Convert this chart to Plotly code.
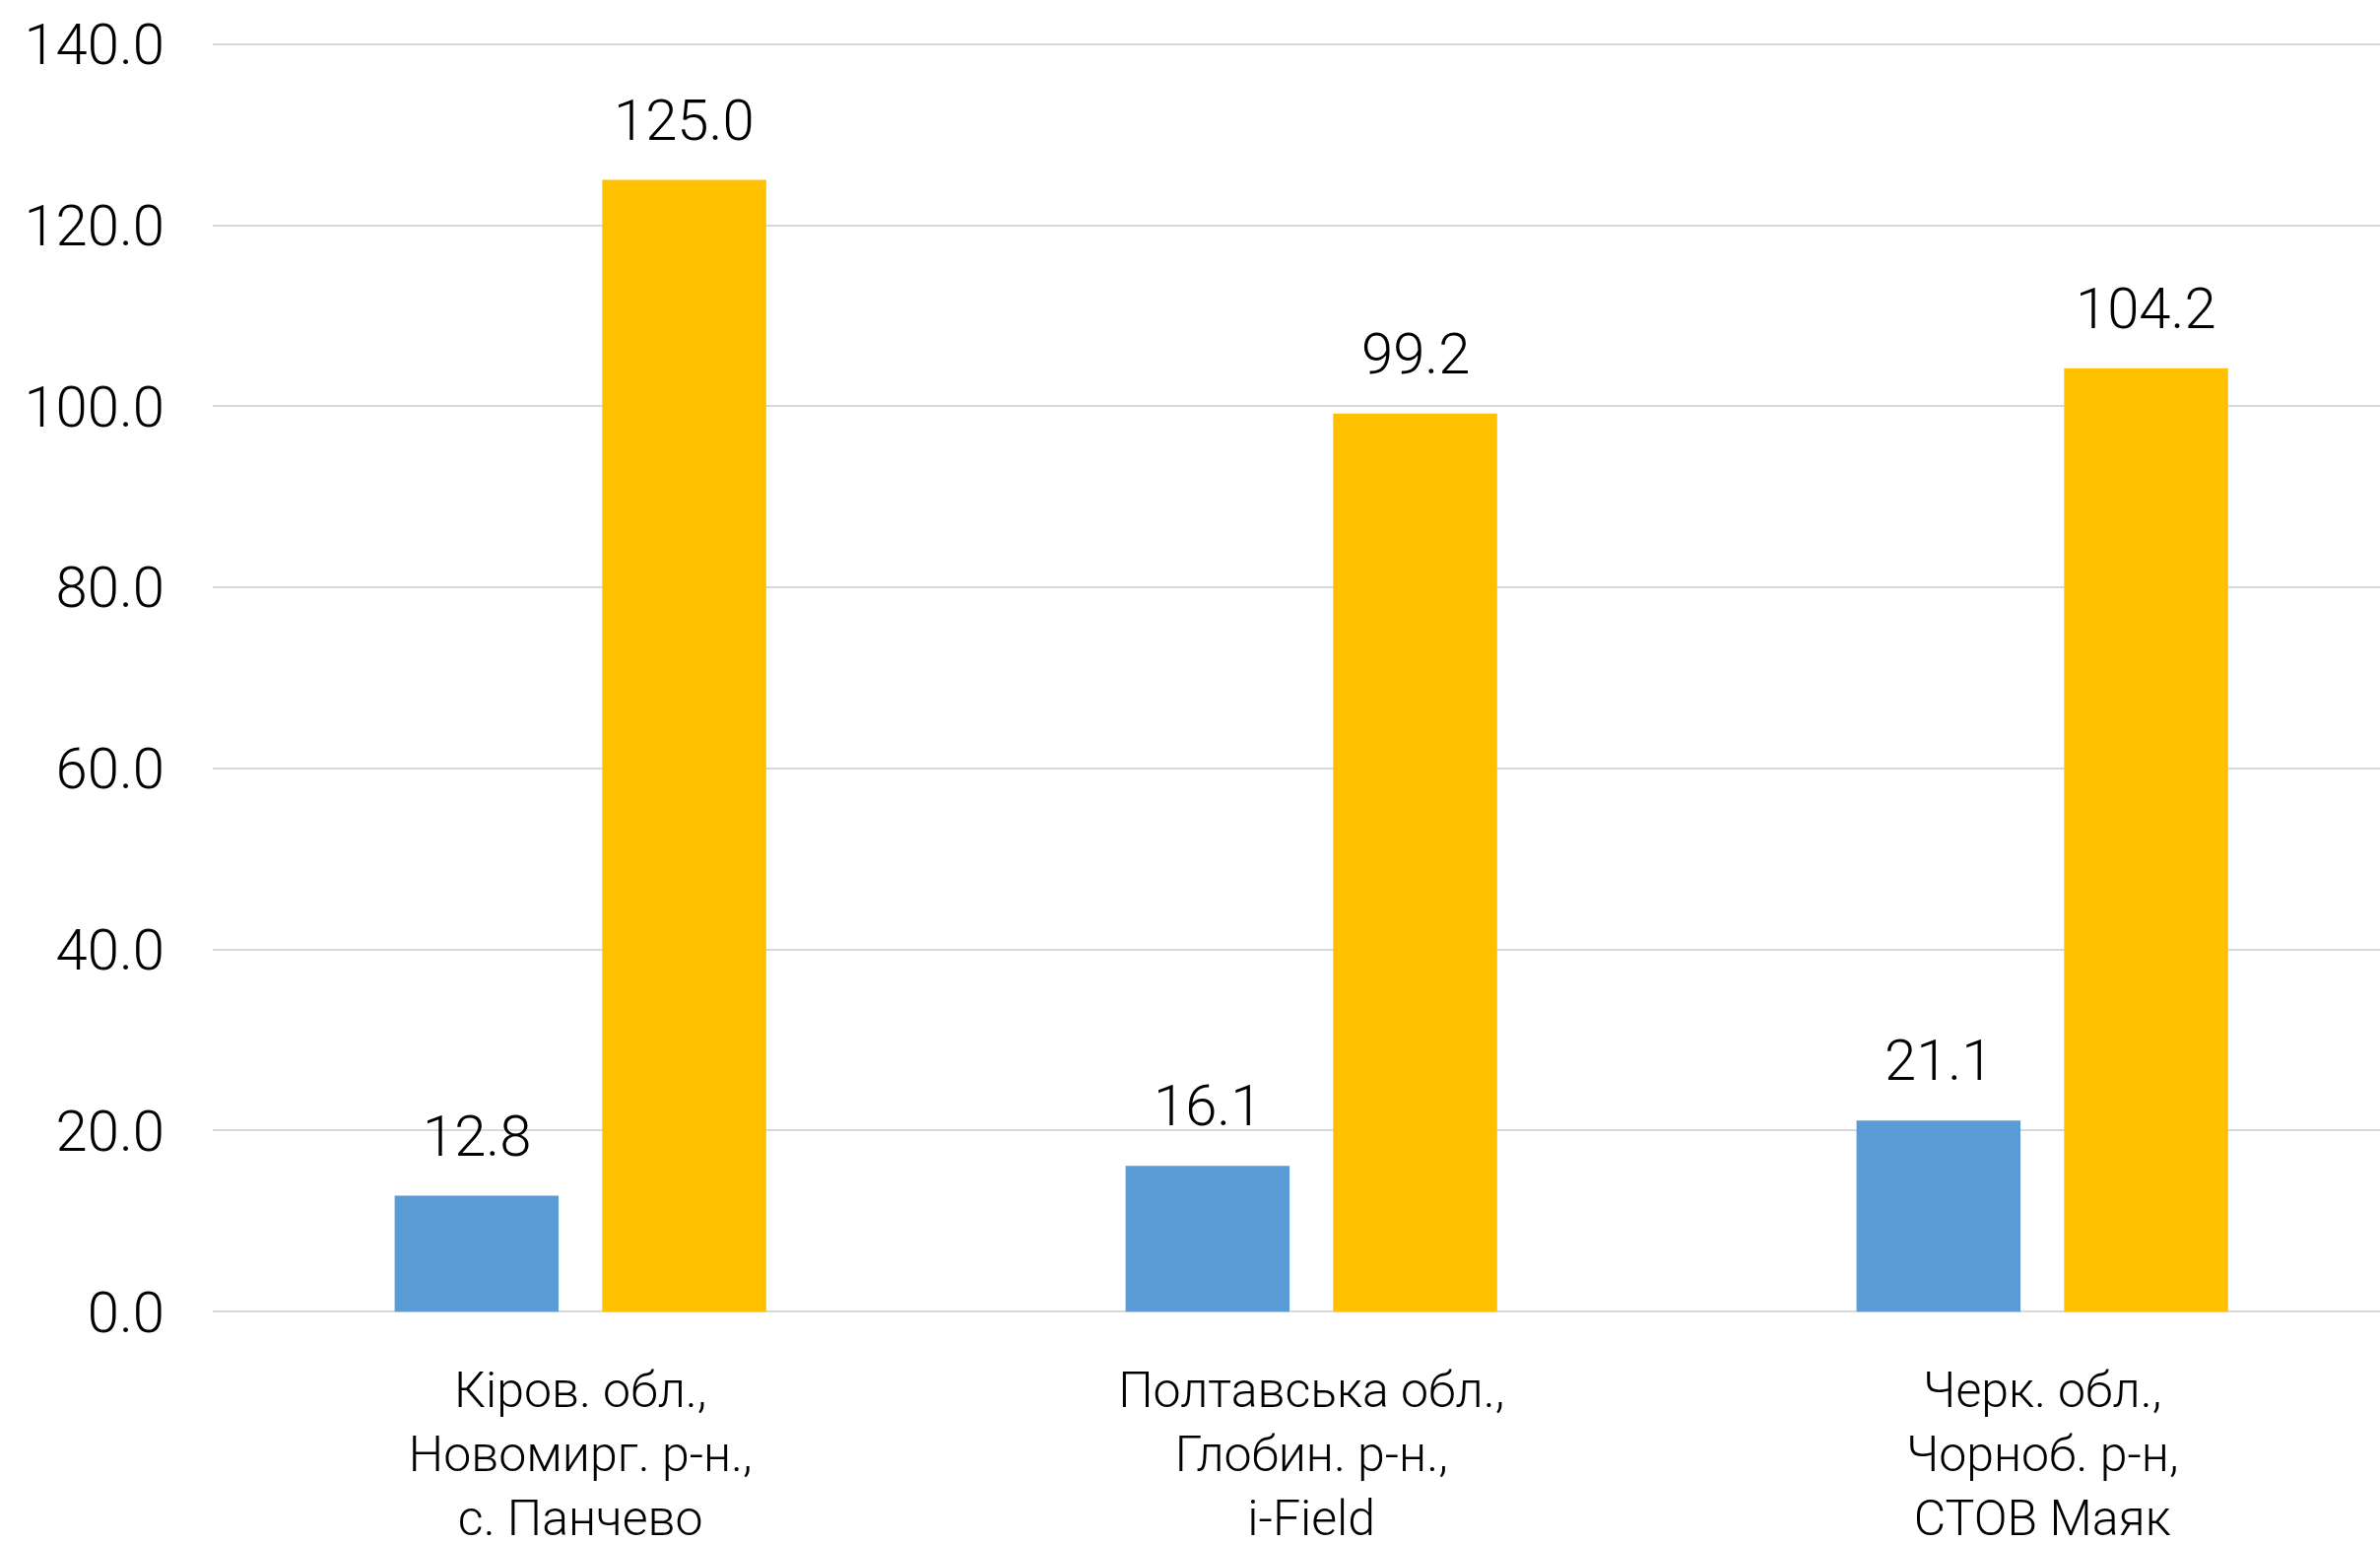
import plotly.graph_objects as go

categories = ["Кіров. обл.,<br>Новомирг. р-н.,<br>с. Панчево",
              "Полтавська обл.,<br>Глобин. р-н.,<br>i-Field",
              "Черк. обл.,<br>Чорноб. р-н,<br>СТОВ Маяк"]
series_a = [12.8, 16.1, 21.1]
series_b = [125.0, 99.2, 104.2]
y_ticks = [0, 20, 40, 60, 80, 100, 120, 140]

BLUE = "#5B9BD5"
YELLOW = "#FFC000"
FONT = "Roboto"
BARGAP = 0.432
GROUPGAP = 0.21

idx = list(range(len(categories)))
fig = go.Figure()
fig.add_bar(x=idx, y=series_a, marker_color=BLUE, marker_line_width=0, name="A")
fig.add_bar(x=idx, y=series_b, marker_color=YELLOW, marker_line_width=0, name="B")

slot = (1 - BARGAP) / 2
for vals, off in ((series_a, -slot / 2), (series_b, slot / 2)):
    for i, v in zip(idx, vals):
        fig.add_annotation(x=i + off, y=v, text=f"{v:.1f}", showarrow=False,
                           yanchor="bottom", yshift=25,
                           font=dict(family=FONT, size=58, color="black", weight=300))

fig.update_layout(
    width=2416, height=1565,
    barmode="group", bargap=BARGAP, bargroupgap=GROUPGAP,
    showlegend=False,
    plot_bgcolor="white", paper_bgcolor="white",
    margin=dict(l=216, r=0, t=42, b=231),
    font=dict(family=FONT, color="black", weight=300),
)
fig.update_xaxes(range=[-0.503, 2.462], tickvals=idx, ticktext=categories,
                 automargin=False,
                 showgrid=False, zeroline=False, showline=False, ticks="",
                 ticklabelstandoff=43,
                 tickfont=dict(family=FONT, size=50, color="black", weight=300))
fig.update_yaxes(range=[-0.3, 140.3], tickvals=y_ticks,
                 ticktext=[f"{t:.1f}" for t in y_ticks],
                 automargin=False,
                 showgrid=True, gridcolor="#D9D9D9", gridwidth=2,
                 zeroline=False, showline=False, ticks="",
                 ticklabelstandoff=48,
                 tickfont=dict(family=FONT, size=58, color="black", weight=300))

fig.write_html("out.html", config={"displayModeBar": False},
               post_script="document.body.style.margin='0';document.body.style.overflow='hidden';")
